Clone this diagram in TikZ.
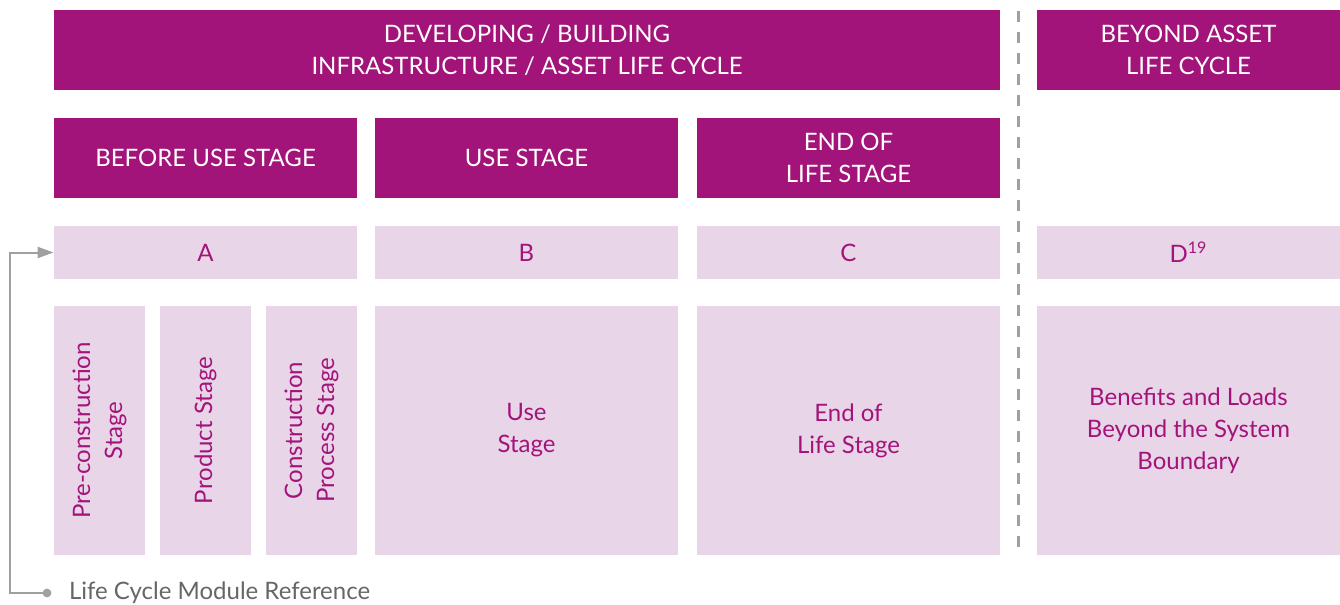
\documentclass[tikz,border=0pt]{standalone}
\usepackage{fontspec}
\setmainfont{Lato}
\usetikzlibrary{arrows.meta}
\definecolor{lcmagenta}{RGB}{163,20,122}
\definecolor{lclight}{RGB}{233,213,232}
\definecolor{lcgrey}{RGB}{160,160,160}
\tikzset{
  stagebox/.style={fill=lcmagenta, text=white, align=center, inner sep=0pt,
    font=\fontsize{12}{16}\selectfont},
  modbox/.style={fill=lclight, text=lcmagenta, align=center, inner sep=0pt,
    font=\fontsize{12}{16}\selectfont},
}
\begin{document}
\begin{tikzpicture}[x=0.5pt, y=-0.5pt]
  \useasboundingbox (0,0) rectangle (1340,605);
  % top headers
  \node[stagebox, minimum width=473pt, minimum height=40pt] (asset) at (527,50)
    {DEVELOPING / BUILDING\\INFRASTRUCTURE / ASSET LIFE CYCLE};
  \node[stagebox, minimum width=151.5pt, minimum height=40pt] (beyond) at (1188.5,50)
    {BEYOND ASSET\\LIFE CYCLE};
  % stage headers
  \node[stagebox, minimum width=151.5pt, minimum height=40pt] (before) at (205.5,158) {BEFORE USE STAGE};
  \node[stagebox, minimum width=151.5pt, minimum height=40pt] (use) at (526.5,158) {USE STAGE};
  \node[stagebox, minimum width=151.5pt, minimum height=40pt] (end) at (848.5,158) {END OF\\LIFE STAGE};
  % module letters
  \node[modbox, minimum width=151.5pt, minimum height=26.5pt] (A) at (205.5,252.5) {A};
  \node[modbox, minimum width=151.5pt, minimum height=26.5pt] (B) at (526.5,252.5) {B};
  \node[modbox, minimum width=151.5pt, minimum height=26.5pt] (C) at (848.5,252.5) {C};
  \node[modbox, minimum width=151.5pt, minimum height=26.5pt] (D) at (1188.5,252.5) {D\textsuperscript{19}};
  % modules
  \node[modbox, minimum width=45.5pt, minimum height=124.5pt] (pre) at (99.5,430.5) {};
  \node[modbox, minimum width=45.5pt, minimum height=124.5pt] (prod) at (205.5,430.5) {};
  \node[modbox, minimum width=45.5pt, minimum height=124.5pt] (constr) at (311.5,430.5) {};
  \node[modbox, rotate=90] at (pre) {Pre-construction\\Stage};
  \node[modbox, rotate=90] at (prod) {Product Stage};
  \node[modbox, rotate=90] at (constr) {Construction\\Process Stage};
  \node[modbox, minimum width=151.5pt, minimum height=124.5pt] (usemod) at (526.5,430.5) {Use\\Stage};
  \node[modbox, minimum width=151.5pt, minimum height=124.5pt] (endmod) at (848.5,430.5) {End of\\Life Stage};
  \node[modbox, minimum width=151.5pt, minimum height=124.5pt] (dmod) at (1188.5,430.5)
    {Benefits and Loads\\Beyond the System\\Boundary};
  % boundary
  \draw[lcgrey, line width=1.5pt, dash pattern=on 5.5pt off 5pt] (1018.5,11) -- (1018.5,556);
  % reference
  \coordinate (dot) at (47,593);
  \fill[lcgrey] (dot) circle (2.2pt);
  \draw[lcgrey, line width=1pt, -{Triangle[length=8pt,width=5.5pt]}] (dot) -- (10,593) |- (A.west);
  \node[anchor=west, text=darkgray!80, font=\fontsize{12}{16}\selectfont] (ref) at (62,593)
    {Life Cycle Module Reference};
\end{tikzpicture}
\end{document}
